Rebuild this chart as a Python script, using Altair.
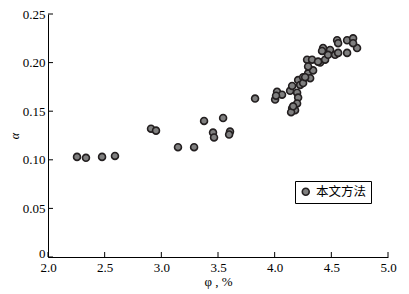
import altair as alt
import pandas as pd

# φ, % values
phi = [2.256, 2.335, 2.477, 2.591, 2.909, 2.953, 3.147, 3.289, 3.377, 3.545,
       3.456, 3.465, 3.606, 3.598, 3.827, 4.004, 4.021, 4.065, 4.012,
       4.136, 4.154, 4.154, 4.180, 4.145, 4.198, 4.207, 4.198, 4.163, 4.207,
       4.251, 4.295, 4.313, 4.225, 4.251, 4.269, 4.339, 4.401, 4.445, 4.427,
       4.489, 4.471, 4.533, 4.418, 4.551, 4.560, 4.639, 4.692, 4.727, 4.639,
       4.560, 4.692, 4.286, 4.330, 4.383, 4.295]
# α values
alpha = [0.103, 0.102, 0.103, 0.104, 0.132, 0.130, 0.113, 0.113, 0.140, 0.143,
         0.128, 0.123, 0.129, 0.126, 0.163, 0.162, 0.170, 0.167, 0.166,
         0.171, 0.176, 0.153, 0.151, 0.149, 0.169, 0.164, 0.158, 0.155, 0.182,
         0.185, 0.189, 0.184, 0.177, 0.179, 0.185, 0.192, 0.200, 0.203, 0.215,
         0.213, 0.208, 0.208, 0.212, 0.223, 0.220, 0.223, 0.225, 0.215, 0.210,
         0.210, 0.220, 0.203, 0.203, 0.201, 0.196]
series_name = "本文方法"

x_ticks = [2.0, 2.5, 3.0, 3.5, 4.0, 4.5, 5.0]
y_ticks = [0.0, 0.05, 0.10, 0.15, 0.20, 0.25]

W, H = 340, 243
df = pd.DataFrame({"phi": phi, "alpha": alpha, "series": [series_name] * len(phi)})

xscale = alt.Scale(domain=[2.0, 5.0], nice=False, zero=False)
yscale = alt.Scale(domain=[0.0, 0.25], nice=False)

points = alt.Chart(df).mark_point(
    filled=True, shape="circle", size=48, opacity=1,
    stroke="#231f20", strokeWidth=1.6
).encode(
    x=alt.X("phi:Q", scale=xscale, title="φ , %",
            axis=alt.Axis(values=x_ticks, format=".1f", labelPadding=4,
                          labelFlush=False, titlePadding=1)),
    y=alt.Y("alpha:Q", scale=yscale, title="α",
            axis=alt.Axis(values=y_ticks, labelPadding=3, titlePadding=1,
                          labelFlush=False, titleFontStyle="italic", titleFontSize=12,
                          labelOffset={"condition": {"test": "datum.value == 0", "value": -4}, "value": 0},
                          labelExpr="datum.value == 0 ? '0' : format(datum.value, '.2f')")),
    fill=alt.Fill("series:N", scale=alt.Scale(range=["#7f7f7f"]),
                  legend=alt.Legend(title=None, orient="none", legendX=247, legendY=167,
                                    padding=4.5, strokeColor="black", fillColor="white",
                                    labelFont="Noto Sans CJK SC", labelFontSize=12.5,
                                    labelColor="black", labelOffset=4,
                                    symbolType="circle", symbolSize=48,
                                    symbolStrokeColor="#231f20", symbolStrokeWidth=1.6,
                                    symbolOpacity=1))
)

xt = alt.Chart(pd.DataFrame({"phi": x_ticks})).mark_rule(color="black", strokeWidth=1).encode(
    x=alt.X("phi:Q", scale=xscale), y=alt.value(H), y2=alt.value(H - 5)
)
yt = alt.Chart(pd.DataFrame({"alpha": y_ticks})).mark_rule(color="black", strokeWidth=1).encode(
    y=alt.Y("alpha:Q", scale=yscale), x=alt.value(0), x2=alt.value(5)
)

chart = alt.layer(xt, yt, points).properties(
    width=W, height=H,
    autosize=alt.AutoSizeParams(type="none"),
    padding={"left": 40, "top": 6, "right": 10, "bottom": 34},
).configure_view(stroke=None).configure_axis(
    grid=False, ticks=False, tickSize=0, domainColor="black", domainWidth=1,
    labelFont="Liberation Serif", labelFontSize=13, labelColor="black",
    titleFont="Liberation Serif", titleFontSize=13, titleFontWeight="normal",
    titleColor="black"
)

chart.save("out.html", embed_options={"renderer": "svg", "actions": False})
